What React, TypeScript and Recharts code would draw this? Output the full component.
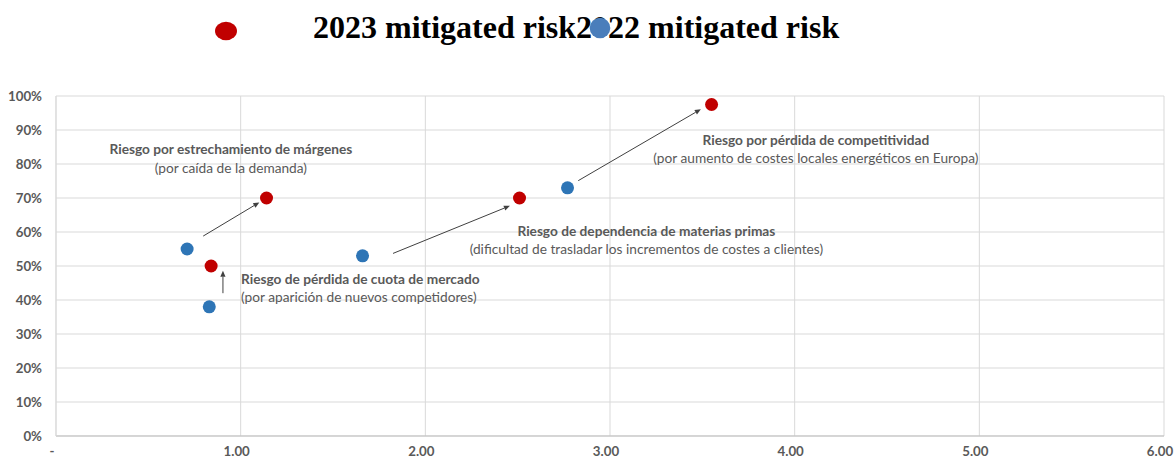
import React from 'react';
import {
  ScatterChart,
  Scatter,
  XAxis,
  YAxis,
  CartesianGrid,
  ReferenceLine,
  ReferenceDot,
} from 'recharts';

// Series names shown in the header legend
const seriesNames = ['2023 mitigated risk', '2022 mitigated risk'];

// 2023 mitigated risk (x = impact multiple, y = probability)
const x2023 = [0.84, 1.14, 2.51, 3.55];
const y2023 = [0.5, 0.7, 0.7, 0.975];

// 2022 mitigated risk
const x2022 = [0.71, 0.83, 1.66, 2.77];
const y2022 = [0.55, 0.38, 0.53, 0.73];

// Axis ticks
const xTicks = [0, 1, 2, 3, 4, 5, 6];
const yTicks = [0, 0.1, 0.2, 0.3, 0.4, 0.5, 0.6, 0.7, 0.8, 0.9, 1];

// Movement arrows from the 2022 position towards the 2023 position
const arrowFromX = [0.797, 0.904, 1.825, 2.828];
const arrowFromY = [0.588, 0.42, 0.537, 0.751];
const arrowToX = [1.101, 0.904, 2.458, 3.492];
const arrowToY = [0.687, 0.486, 0.677, 0.961];

// Risk annotations
const noteTitles = [
  'Riesgo por estrechamiento de márgenes',
  'Riesgo de pérdida de cuota de mercado',
  'Riesgo de dependencia de materias primas',
  'Riesgo por pérdida de competitividad',
];
const noteSubtitles = [
  '(por caída de la demanda)',
  '(por aparición de nuevos competidores)',
  '(dificultad de trasladar los incrementos de costes a clientes)',
  '(por aumento de costes locales energéticos en Europa)',
];
const noteX = [0.947, 1.002, 3.197, 4.115];
const noteY = [0.847, 0.466, 0.606, 0.874];
const noteAnchor: Array<'middle' | 'start'> = ['middle', 'start', 'middle', 'middle'];

const RED = '#C00000';
const BLUE = '#2E75B6';
const TEXT = '#595959';
const FONT = 'Lato, "Open Sans", sans-serif';

const data2023 = x2023.map((x, i) => ({ x, y: y2023[i] }));
const data2022 = x2022.map((x, i) => ({ x, y: y2022[i] }));

const dot = (color: string) => (props: any) => (
  <circle cx={props.cx} cy={props.cy} r={6.5} fill={color} />
);

const arrowShape = (props: any) => {
  const { x1, y1, x2, y2 } = props;
  const ang = Math.atan2(y2 - y1, x2 - x1);
  const len = 6;
  const w = 2.6;
  const bx = x2 - len * Math.cos(ang);
  const by = y2 - len * Math.sin(ang);
  const px = -Math.sin(ang) * w;
  const py = Math.cos(ang) * w;
  return (
    <g>
      <line x1={x1} y1={y1} x2={bx} y2={by} stroke="#404040" strokeWidth={1} />
      <polygon
        points={`${x2},${y2} ${bx + px},${by + py} ${bx - px},${by - py}`}
        fill="#404040"
      />
    </g>
  );
};

const noteShape = (i: number) => (props: any) => (
  <text
    x={props.cx}
    y={props.cy}
    textAnchor={noteAnchor[i]}
    fill={TEXT}
    fontFamily={FONT}
    fontSize={13.7}
    dominantBaseline="central"
  >
    <tspan x={props.cx} fontWeight="bold">
      {noteTitles[i]}
    </tspan>
    <tspan x={props.cx} dy={18.5}>
      {noteSubtitles[i]}
    </tspan>
  </text>
);

const xFmt = (v: number) => (v === 0 ? '-' : v.toFixed(2));
const yFmt = (v: number) => `${Math.round(v * 100)}%`;

export default function App() {
  return (
    <div
      style={{
        position: 'absolute',
        left: 0,
        top: 0,
        width: 1174,
        height: 458,
        background: '#ffffff',
      }}
    >
      <svg
        width={1174}
        height={60}
        style={{ position: 'absolute', left: 0, top: 0 }}
      >
        <ellipse cx={226} cy={31} rx={11} ry={9.2} fill={RED} />
        <text
          x={313}
          y={38}
          fontFamily='"Liberation Serif", "Times New Roman", serif'
          fontWeight="bold"
          fontSize={32}
          fill="#000"
        >
          {seriesNames[0] + seriesNames[1]}
        </text>
        <circle cx={600} cy={28} r={10.3} fill="#4A7EBB" />
      </svg>
      <div style={{ position: 'absolute', left: 0, top: 0 }}>
        <ScatterChart
          width={1174}
          height={458}
          margin={{ top: 96, right: 10, bottom: 0, left: 0 }}
        >
          <CartesianGrid stroke="#d9d9d9" strokeWidth={1} />
          <XAxis
            type="number"
            dataKey="x"
            domain={[0, 6]}
            ticks={xTicks}
            tickFormatter={xFmt}
            height={22}
            tickLine={false}
            tickMargin={5}
            axisLine={{ stroke: '#bfbfbf' }}
            tick={{ fill: TEXT, fontSize: 13.3, fontWeight: 'bold', fontFamily: FONT, dx: -4 }}
            interval={0}
          />
          <YAxis
            type="number"
            dataKey="y"
            domain={[0, 1]}
            ticks={yTicks}
            tickFormatter={yFmt}
            width={56}
            tickLine={false}
            tickMargin={8}
            axisLine={{ stroke: '#d9d9d9' }}
            tick={{ fill: TEXT, fontSize: 13.3, fontWeight: 'bold', fontFamily: FONT }}
            interval={0}
          />
          {arrowFromX.map((fx, i) => (
            <ReferenceLine
              key={`arrow-${i}`}
              segment={[
                { x: fx, y: arrowFromY[i] },
                { x: arrowToX[i], y: arrowToY[i] },
              ]}
              stroke="#404040"
              shape={arrowShape}
            />
          ))}
          {noteX.map((nx, i) => (
            <ReferenceDot
              key={`note-${i}`}
              x={nx}
              y={noteY[i]}
              r={0}
              shape={noteShape(i)}
            />
          ))}
          <Scatter
            name={seriesNames[1]}
            data={data2022}
            fill={BLUE}
            shape={dot(BLUE)}
            isAnimationActive={false}
          />
          <Scatter
            name={seriesNames[0]}
            data={data2023}
            fill={RED}
            shape={dot(RED)}
            isAnimationActive={false}
          />
        </ScatterChart>
      </div>
    </div>
  );
}
